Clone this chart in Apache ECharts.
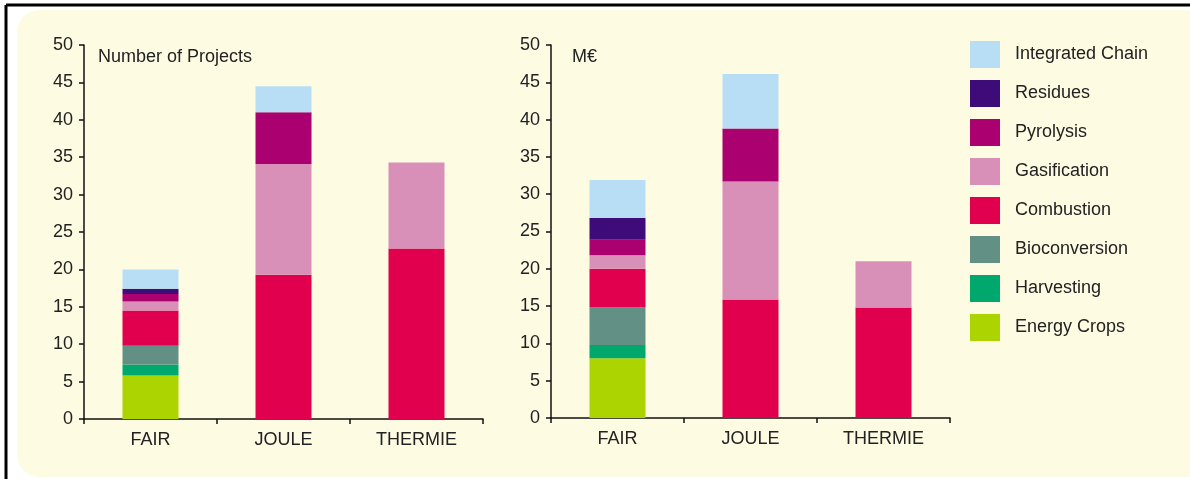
<!DOCTYPE html>
<html>
<head>
<meta charset="utf-8">
<script src="https://cdn.jsdelivr.net/npm/echarts@6/dist/echarts.min.js"></script>
<style>
  html, body { margin: 0; padding: 0; background: #ffffff; }
  #chart { width: 1190px; height: 479px; }
</style>
</head>
<body>
<div id="chart"></div>
<script>
// Programmes on the category axis
const programmes = ['FAIR', 'JOULE', 'THERMIE'];

// Technology areas, bottom of the stack first
const areas = ['Energy Crops', 'Harvesting', 'Bioconversion', 'Combustion',
               'Gasification', 'Pyrolysis', 'Residues', 'Integrated Chain'];

const areaColors = ['#abd400', '#00a86e', '#629084', '#e0004e',
                    '#d890b8', '#ab0070', '#3d0c78', '#b8def5'];

// Number of projects per area (FAIR, JOULE, THERMIE)
const projEnergyCrops   = [5.8, null, null];
const projHarvesting    = [1.5, null, null];
const projBioconversion = [2.5, null, null];
const projCombustion    = [4.7, 19.3, 22.8];
const projGasification  = [1.2, 14.8, 11.5];
const projPyrolysis     = [1.0, 6.9, null];
const projResidues      = [0.7, null, null];
const projIntegrated    = [2.6, 3.5, null];

// Funding per area in M€ (FAIR, JOULE, THERMIE)
const fundEnergyCrops   = [8.0, null, null];
const fundHarvesting    = [1.8, null, null];
const fundBioconversion = [5.0, null, null];
const fundCombustion    = [5.2, 15.9, 14.8];
const fundGasification  = [1.8, 15.8, 6.2];
const fundPyrolysis     = [2.1, 7.1, null];
const fundResidues      = [2.9, null, null];
const fundIntegrated    = [5.1, 7.3, null];

// Value axis ticks
const yTicks = [0, 5, 10, 15, 20, 25, 30, 35, 40, 45, 50];

const projects = [projEnergyCrops, projHarvesting, projBioconversion, projCombustion,
                  projGasification, projPyrolysis, projResidues, projIntegrated];
const funding  = [fundEnergyCrops, fundHarvesting, fundBioconversion, fundCombustion,
                  fundGasification, fundPyrolysis, fundResidues, fundIntegrated];

const font = 'Liberation Sans, Arial, sans-serif';
const textColor = '#222222';
const textSize = 18;

function makeSeries(values, idx, stackName) {
  return areas.map((name, i) => ({
    name: name,
    type: 'bar',
    stack: stackName,
    xAxisIndex: idx,
    yAxisIndex: idx,
    barWidth: 56,
    data: values[i],
    itemStyle: { color: areaColors[i] },
    emphasis: { disabled: true }
  }));
}

function xAxisFor(idx) {
  return {
    type: 'category',
    gridIndex: idx,
    data: programmes,
    axisLine: { lineStyle: { color: '#111', width: 1.5 } },
    axisTick: { show: true, length: 5, lineStyle: { color: '#111', width: 1.5 } },
    axisLabel: { color: textColor, fontSize: textSize, fontFamily: font, margin: 12 }
  };
}

function yAxisFor(idx) {
  return {
    type: 'value',
    gridIndex: idx,
    min: yTicks[0],
    max: yTicks[yTicks.length - 1],
    interval: yTicks[1] - yTicks[0],
    axisLine: { show: true, lineStyle: { color: '#111', width: 1.5 } },
    axisTick: { show: true, length: 5, lineStyle: { color: '#111', width: 1.5 } },
    axisLabel: { color: textColor, fontSize: textSize, fontFamily: font, margin: 11 },
    splitLine: { show: false }
  };
}

const chart = echarts.init(document.getElementById('chart'), null, { renderer: 'canvas' });

chart.setOption({
  backgroundColor: '#ffffff',
  animation: false,
  graphic: [
    { type: 'rect', z: -10, silent: true,
      shape: { x: 17, y: 10, width: 1190, height: 467, r: [22, 22, 22, 22] },
      style: { fill: '#fefbe3' } },
    { type: 'line', z: -5, silent: true,
      shape: { x1: 6, y1: 5, x2: 1190, y2: 5 },
      style: { stroke: '#000', lineWidth: 3 } },
    { type: 'line', z: -5, silent: true,
      shape: { x1: 6, y1: 5, x2: 6, y2: 479 },
      style: { stroke: '#000', lineWidth: 3 } }
  ],
  title: [
    { text: 'Number of Projects', left: 93, top: 43,
      textStyle: { color: textColor, fontSize: textSize, fontWeight: 'normal', fontFamily: font } },
    { text: 'M€', left: 567, top: 43,
      textStyle: { color: textColor, fontSize: textSize, fontWeight: 'normal', fontFamily: font } }
  ],
  legend: {
    orient: 'vertical',
    left: 965,
    top: 36,
    itemWidth: 30,
    itemHeight: 27,
    itemGap: 12,
    selectedMode: false,
    data: areas.slice().reverse().map(n => ({ name: n, icon: 'rect' })),
    textStyle: { color: textColor, fontSize: textSize, fontFamily: font, padding: [0, 0, 0, 10] }
  },
  grid: [
    { left: 84, top: 45, width: 399, height: 374 },
    { left: 551, top: 45, width: 399, height: 373 }
  ],
  xAxis: [xAxisFor(0), xAxisFor(1)],
  yAxis: [yAxisFor(0), yAxisFor(1)],
  series: [...makeSeries(projects, 0, 'projects'), ...makeSeries(funding, 1, 'funding')]
});
</script>
</body>
</html>
